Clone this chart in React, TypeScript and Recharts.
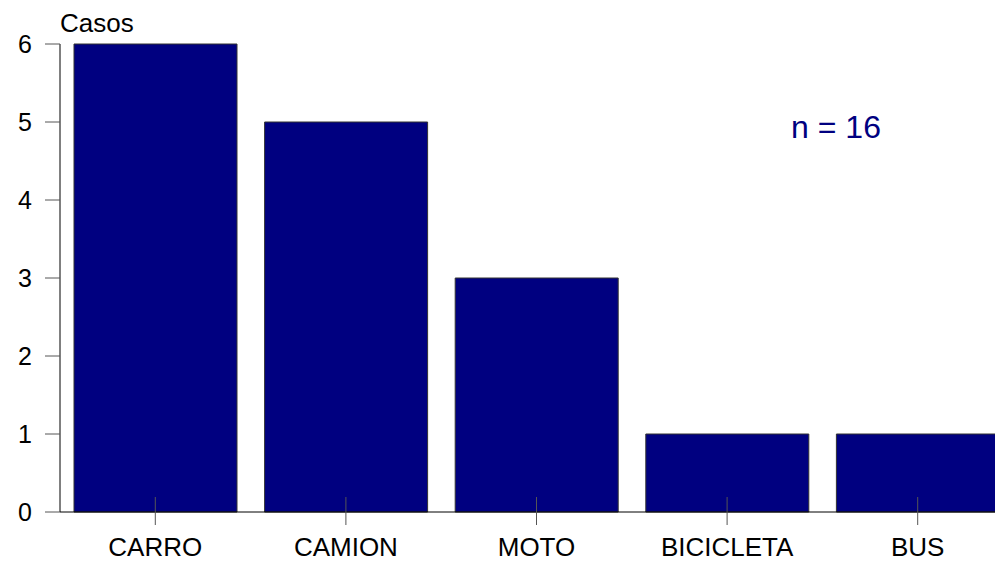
import { BarChart, Bar, XAxis, YAxis, Customized } from "recharts";

const categories = ["CARRO", "CAMION", "MOTO", "BICICLETA", "BUS"];
const casos = [6, 5, 3, 1, 1];
const yTicks = [0, 1, 2, 3, 4, 5, 6];
const total = 16;

const data = categories.map((c, i) => ({ name: c, casos: casos[i] }));

const FONT = "'Liberation Sans', Arial, sans-serif";

const XTick = (props: any) => {
  const { x, y, payload } = props;
  return (
    <g>
      <line x1={x} x2={x} y1={y - 15} y2={y + 13} stroke="#555" strokeWidth={1} />
      <text x={x} y={y + 44} textAnchor="middle" fontSize={26} fontFamily={FONT} fill="#000">
        {payload.value}
      </text>
    </g>
  );
};

const Overlay = () => (
  <g>
    <text x={60} y={32} fontSize={26} fontFamily={FONT} fill="#000">
      Casos
    </text>
    <text x={836} y={138} textAnchor="middle" fontSize={32} fontFamily={FONT} fill="#000080">
      n = {total}
    </text>
  </g>
);

export default function App() {
  return (
    <div style={{ position: "absolute", left: 0, top: 0, width: 995, height: 562, overflow: "hidden", background: "#fff" }}>
      <BarChart
        width={1013}
        height={562}
        data={data}
        margin={{ top: 44, right: 0, bottom: 0, left: 0 }}
        barCategoryGap={14}
      >
        <XAxis
          dataKey="name"
          height={50}
          axisLine={{ stroke: "#000" }}
          tickLine={false}
          tickSize={0}
          tickMargin={0}
          tick={<XTick />}
          interval={0}
        />
        <YAxis
          width={60}
          domain={[0, 6]}
          ticks={yTicks}
          axisLine={{ stroke: "#000" }}
          tickLine={{ stroke: "#555" }}
          tickSize={15}
          tickMargin={13}
          tick={{ fontSize: 25, fontFamily: FONT, fill: "#000" }}
        />
        <Bar dataKey="casos" fill="#000080" stroke="#333" strokeWidth={1} isAnimationActive={false} />
        <Customized component={Overlay} />
      </BarChart>
    </div>
  );
}
